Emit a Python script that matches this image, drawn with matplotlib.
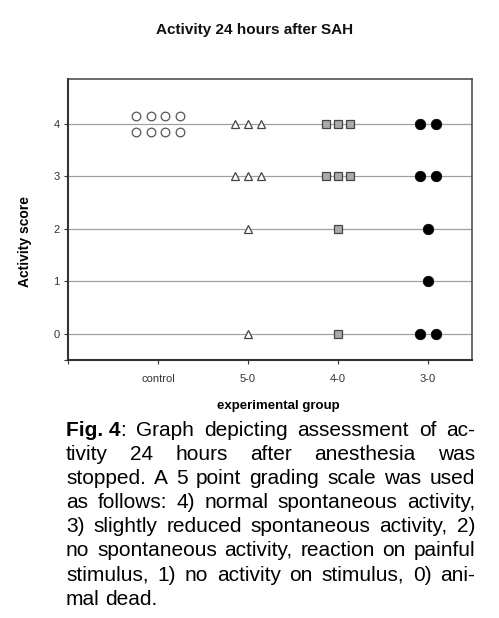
import matplotlib
matplotlib.use("Agg")
import matplotlib.pyplot as plt
import numpy as np

plt.rcParams["font.family"] = ["Liberation Sans", "DejaVu Sans"]

# data
groups = ["control", "5-0", "4-0", "3-0"]
scores_control = [4, 4, 4, 4, 4, 4, 4, 4]
scores_50 = [4, 4, 4, 3, 3, 3, 2, 0]
scores_40 = [4, 4, 4, 3, 3, 3, 2, 0]
scores_30 = [4, 4, 3, 3, 2, 1, 0, 0]
score_ticks = [0, 1, 2, 3, 4]

caption_lines = [
    "Graph depicting assessment of ac-",
    "tivity 24 hours after anesthesia was",
    "stopped. A 5 point grading scale was used",
    "as follows: 4) normal spontaneous activity,",
    "3) slightly reduced spontaneous activity, 2)",
    "no spontaneous activity, reaction on painful",
    "stimulus, 1) no activity on stimulus, 0) ani-",
    "mal dead.",
]

styles = [
    dict(marker="o", ms=6.2, mfc="white", mec="#555555", mew=0.9, step=0.165, per_row=4),
    dict(marker="^", ms=5.6, mfc="white", mec="#444444", mew=0.9, step=0.14, per_row=4),
    dict(marker="s", ms=5.3, mfc="#aaaaaa", mec="#444444", mew=0.9, step=0.135, per_row=4),
    dict(marker="o", ms=7.6, mfc="black", mec="black", mew=0.5, step=0.175, per_row=4),
]

fig = plt.figure(figsize=(4.99, 6.18), dpi=100)
ax = fig.add_axes([0.1363, 0.4175, 0.8096, 0.4547])

for gi, (name, scores, st) in enumerate(
    zip(groups, [scores_control, scores_50, scores_40, scores_30], styles)
):
    x0 = gi + 1
    for s in sorted(set(scores)):
        n = scores.count(s)
        rows = int(np.ceil(n / st["per_row"]))
        k = 0
        for r in range(rows):
            m = min(st["per_row"], n - k)
            xs = x0 + (np.arange(m) - (m - 1) / 2) * st["step"]
            dy = (r - (rows - 1) / 2) * -0.31
            ax.plot(xs, np.full(m, s + dy), linestyle="none", marker=st["marker"],
                    ms=st["ms"], mfc=st["mfc"], mec=st["mec"], mew=st["mew"],
                    zorder=3)
            k += m

ax.set_xlim(0, 4.49)
ax.set_ylim(-0.5, 4.86)
ax.set_xticks(range(len(groups) + 1))
ax.set_xticklabels([""] + groups, fontsize=8, color="#333333")
ax.set_yticks(score_ticks)
ax.set_yticklabels([str(v) for v in score_ticks], fontsize=8, color="#333333")
ax.set_yticks([-0.5], minor=True)
ax.tick_params(axis="both", which="both", direction="out", length=3, width=0.8,
               color="#333333")
ax.tick_params(axis="x", pad=7)
ax.tick_params(axis="y", pad=3)
for v in score_ticks:
    ax.axhline(v, color="#a0a0a0", lw=0.9, zorder=1)

for side in ["top", "right"]:
    ax.spines[side].set_color("#444444")
    ax.spines[side].set_linewidth(1.1)
for side in ["left", "bottom"]:
    ax.spines[side].set_color("#333333")
    ax.spines[side].set_linewidth(1.5)

fig.text(0.511, 0.952, "Activity 24 hours after SAH", ha="center", va="center",
         fontsize=11, fontweight="bold", color="#111111")
ax.set_ylabel("Activity score", fontsize=10, fontweight="bold")
ax.yaxis.set_label_coords(-0.09, 0.423)
ax.set_xlabel("experimental group", fontsize=9.5, fontweight="bold")
ax.xaxis.set_label_coords(0.52, -0.142)

# justified caption
renderer = fig.canvas.get_renderer()
left_px, right_px = 66, 475
line_y0, line_dy = 430, 24.2
fs = 15


def width_of(txt, weight="normal"):
    t = fig.text(0, 0, txt, fontsize=fs, fontweight=weight)
    w = t.get_window_extent(renderer).width
    t.remove()
    return w


for li, line in enumerate(caption_lines):
    words = line.split(" ")
    y = 1 - (line_y0 + li * line_dy) / 618
    pieces = []
    if li == 0:
        pieces.append([("Fig. 4", "bold"), (":", "normal")])
    for w in words:
        pieces.append([(w, "normal")])
    widths = [sum(width_of(t, wt) for t, wt in p) for p in pieces]
    total = sum(widths)
    if li == len(caption_lines) - 1:
        gap = width_of("a b") - width_of("ab")
    else:
        gap = (right_px - left_px - total) / (len(pieces) - 1)
    x = left_px
    for p, w in zip(pieces, widths):
        xx = x
        for t, wt in p:
            fig.text(xx / 499, y, t, fontsize=fs, fontweight=wt, va="center",
                     color="black")
            xx += width_of(t, wt)
        x += w + gap

fig.savefig("out.png", dpi=100)
